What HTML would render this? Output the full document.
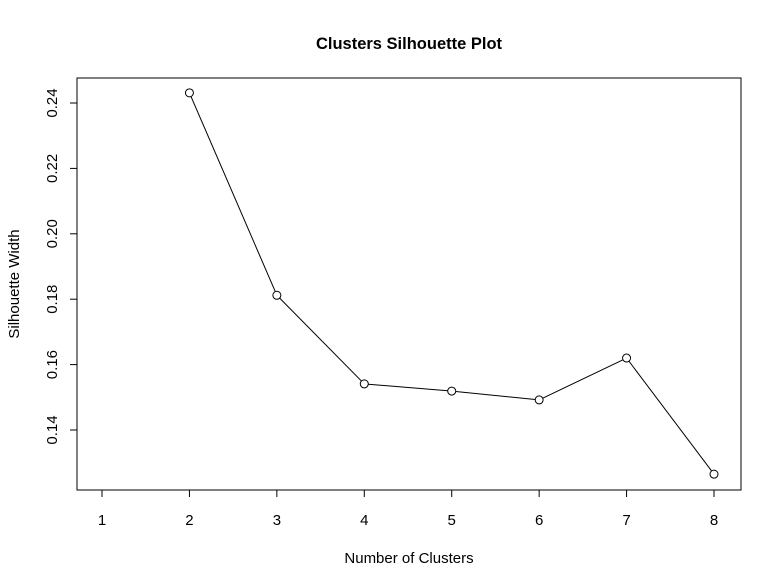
<!DOCTYPE html>
<html><head><meta charset="utf-8"><style>
html,body{margin:0;padding:0;background:#fff;}
svg{display:block;font-family:"Liberation Sans",Arial,sans-serif;}
</style></head><body>
<svg id="chart" width="779" height="588" viewBox="0 0 779 588" xmlns="http://www.w3.org/2000/svg">
<text x="409" y="49" text-anchor="middle" font-size="16.5" font-weight="bold">Clusters Silhouette Plot</text>
<rect x="77" y="78" width="664" height="412" fill="none" stroke="#000" stroke-width="1"/>
<text x="409" y="563" text-anchor="middle" font-size="15">Number of Clusters</text>
<text x="19" y="284" text-anchor="middle" font-size="15" transform="rotate(-90 19 284)">Silhouette Width</text>
<g id="axes"></g>
<g id="series"></g>
</svg>
<script>
const categories=[2,3,4,5,6,7,8];
const silhouette=[0.2431,0.1812,0.1541,0.1519,0.1492,0.1620,0.1265];
const xTicks=[1,2,3,4,5,6,7,8];
const yTicks=[0.14,0.16,0.18,0.20,0.22,0.24];
const yTickLabels=["0.14","0.16","0.18","0.20","0.22","0.24"];
const NS="http://www.w3.org/2000/svg";
const xs=v=>102+(v-1)*87.43;
const ys=v=>103+(0.24-v)*3270;
function mk(tag,attrs,parent){const e=document.createElementNS(NS,tag);for(const k in attrs)e.setAttribute(k,attrs[k]);parent.appendChild(e);return e;}
const axes=document.getElementById('axes');
const ser=document.getElementById('series');
let l=mk('line',{x1:xs(1),x2:xs(8),y1:490,y2:490,stroke:'#000'},axes);


xTicks.forEach(t=>{
  const tk=mk('line',{x1:xs(t),x2:xs(t),y1:490,y2:497,stroke:'#000'},axes);
  
  
  const tx=mk('text',{x:xs(t),y:525,'text-anchor':'middle','font-size':'15'},axes);
  tx.textContent=t;
  
  
});
l=mk('line',{x1:77,x2:77,y1:ys(0.24),y2:ys(0.14),stroke:'#000'},axes);


yTicks.forEach((t,i)=>{
  const y=ys(t);
  const tk=mk('line',{x1:70,x2:77,y1:y,y2:y,stroke:'#000'},axes);
  
  
  const tx=mk('text',{x:57,y:y,'text-anchor':'middle','font-size':'15',transform:`rotate(-90 57 ${y})`},axes);
  tx.textContent=yTickLabels[i];
  
  
});
const r=4;
for(let i=0;i<categories.length-1;i++){
  const x1=xs(categories[i]),y1=ys(silhouette[i]),x2=xs(categories[i+1]),y2=ys(silhouette[i+1]);
  const d=Math.hypot(x2-x1,y2-y1),ux=(x2-x1)/d,uy=(y2-y1)/d;
  const s=mk('line',{x1:x1+ux*r,y1:y1+uy*r,x2:x2-ux*r,y2:y2-uy*r,stroke:'#000'},ser);
  
  
}
categories.forEach((c,i)=>{
  const p=mk('circle',{cx:xs(c),cy:ys(silhouette[i]),r:r,fill:'none',stroke:'#000'},ser);
  
  
});
</script>
</body></html>
